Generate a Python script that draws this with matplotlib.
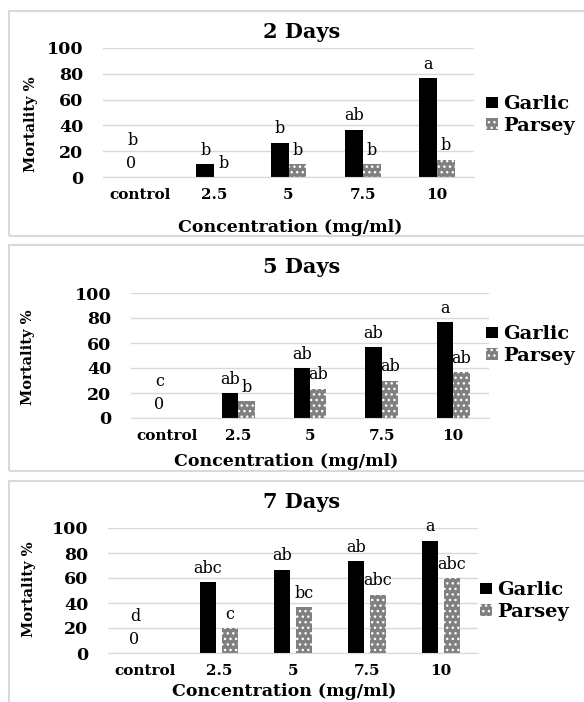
import numpy as np
import matplotlib.pyplot as plt
from matplotlib.patches import Rectangle

plt.rcParams['font.family'] = ['DejaVu Serif']
plt.rcParams['hatch.color'] = 'white'
plt.rcParams['hatch.linewidth'] = 1.0

# дані
categories = ['control', '2.5', '5', '7.5', '10']
yticks = [0, 20, 40, 60, 80, 100]
titles = ['2 Days', '5 Days', '7 Days']
series_names = ['Garlic', 'Parsey']

garlic_2 = [0, 10, 26.7, 36.7, 76.7]
parsey_2 = [0, 0, 10, 10, 13.3]
garlic_5 = [0, 20, 40, 56.7, 76.7]
parsey_5 = [0, 13.3, 23.3, 30, 36.7]
garlic_7 = [0, 56.7, 66.7, 73.3, 90]
parsey_7 = [0, 20, 36.7, 46.7, 60]

garlic_let_2 = ['', 'b', 'b', 'ab', 'a']
parsey_let_2 = ['', 'b', 'b', 'b', 'b']
garlic_let_5 = ['', 'ab', 'ab', 'ab', 'a']
parsey_let_5 = ['', 'b', 'ab', 'ab', 'ab']
garlic_let_7 = ['', 'abc', 'ab', 'ab', 'a']
parsey_let_7 = ['', 'c', 'bc', 'abc', 'abc']
control_let = ['b', 'c', 'd']

W, H = 584, 702


def box(l, t, r, b):
    return [l / W, 1 - b / H, (r - l) / W, (b - t) / H]


# розмітка панелей у пікселях
panels = [
    dict(ax=(103, 48, 474, 177), frame=(9, 11, 640, 236), title=32,
         xlab=(290, 228), ylab=(31, 124), leg=(486, 95), w=0.24, gap=0.0),
    dict(ax=(131, 293, 489, 418), frame=(9, 245, 640, 471), title=267,
         xlab=(286, 462), ylab=(28, 357), leg=(486, 325), w=0.23, gap=0.0),
    dict(ax=(108, 528, 478, 653), frame=(9, 481, 640, 760), title=502,
         xlab=(284, 692), ylab=(29, 589), leg=(480, 581), w=0.21, gap=0.09),
]
garlic_all = [garlic_2, garlic_5, garlic_7]
parsey_all = [parsey_2, parsey_5, parsey_7]
glet_all = [garlic_let_2, garlic_let_5, garlic_let_7]
plet_all = [parsey_let_2, parsey_let_5, parsey_let_7]

fig = plt.figure(figsize=(W / 100, H / 100), dpi=100)
fig.patch.set_facecolor('white')

for k, p in enumerate(panels):
    l, t, r, b = p['frame']
    fig.patches.append(Rectangle((l / W, 1 - b / H), (r - l) / W, (b - t) / H,
                                 transform=fig.transFigure, fill=False,
                                 edgecolor='#d9d9d9', lw=1.5))

    ax = fig.add_axes(box(*p['ax']))
    x = np.arange(len(categories))
    w, gap = p['w'], p['gap']
    xg = x - (w + gap) / 2
    xp = x + (w + gap) / 2
    bg = ax.bar(xg, garlic_all[k], w, color='black', label=series_names[0])
    bp = ax.bar(xp, parsey_all[k], w, color='#808080', hatch='...',
                linewidth=0, label=series_names[1])

    for xi, v, s in zip(xg, garlic_all[k], glet_all[k]):
        if s:
            ax.annotate(s, (xi, v), xytext=(0, 10), textcoords='offset points',
                        ha='center', va='center', fontsize=11.5)
    for xi, v, s in zip(xp, parsey_all[k], plet_all[k]):
        if s:
            ax.annotate(s, (xi, v), xytext=(0, 10), textcoords='offset points',
                        ha='center', va='center', fontsize=11.5)
    # контроль: нульова мітка та літера
    ax.annotate('0', (xg[0], garlic_all[k][0]), xytext=(0, 10),
                textcoords='offset points', ha='center', va='center', fontsize=11.5)
    ax.annotate(control_let[k], (xg[0], garlic_all[k][0]), xytext=(1, 26),
                textcoords='offset points', ha='center', va='center', fontsize=11.5)

    ax.set_xlim(-0.5, len(categories) - 0.5)
    ax.set_ylim(0, 100)
    ax.set_yticks(yticks)
    ax.set_yticklabels([str(v) for v in yticks], fontweight='bold', fontsize=12.5)
    ax.set_xticks(x)
    ax.set_xticklabels(categories, fontweight='bold', fontsize=11)
    ax.tick_params(length=0)
    ax.tick_params(axis='y', pad=14)
    ax.tick_params(axis='x', pad=8)
    ax.yaxis.grid(True, color='#d9d9d9', lw=1)
    ax.set_axisbelow(True)
    ax.spines[['top', 'right', 'left']].set_visible(False)
    ax.spines['bottom'].set_color('#d9d9d9')

    fig.text(302 / W, 1 - p['title'] / H, titles[k], ha='center', va='center',
             fontsize=15, fontweight='bold')
    fig.text(p['xlab'][0] / W, 1 - p['xlab'][1] / H, 'Concentration (mg/ml)',
             ha='center', va='center', fontsize=12.5, fontweight='bold')
    fig.text(p['ylab'][0] / W, 1 - p['ylab'][1] / H, 'Mortality %',
             ha='center', va='center', rotation=90, fontsize=10.5,
             fontweight='bold')

    ax.legend(handles=[bg, bp], loc='upper left',
              bbox_to_anchor=(p['leg'][0] / W, 1 - p['leg'][1] / H),
              bbox_transform=fig.transFigure, frameon=False,
              prop=dict(size=14, weight='bold'), handlelength=0.6,
              handleheight=0.5, handletextpad=0.3, borderpad=0,
              borderaxespad=0, labelspacing=0.2)

fig.savefig('out.png', dpi=100)
